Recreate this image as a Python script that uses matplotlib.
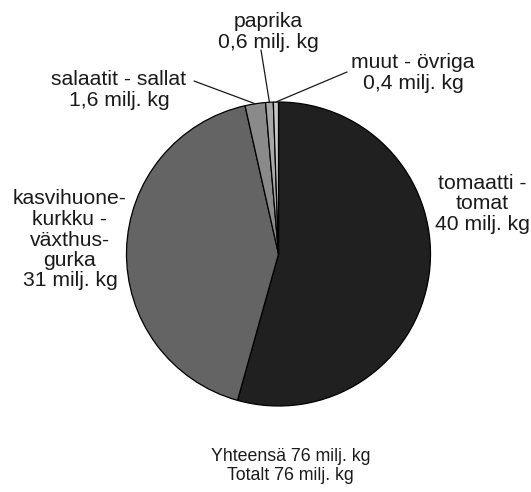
import matplotlib
matplotlib.use("Agg")
import matplotlib.pyplot as plt
import numpy as np

categories = ["tomaatti -\ntomat", "kasvihuone-\nkurkku -\nväxthus-\ngurka",
              "salaatit - sallat", "paprika", "muut - övriga"]
values = [40, 31, 1.6, 0.6, 0.4]
value_labels = ["40 milj. kg", "31 milj. kg", "1,6 milj. kg", "0,6 milj. kg", "0,4 milj. kg"]
colors = ["#202020", "#646464", "#8a8a8a", "#a8a8a8", "#c8c8c8"]
total_text = "Yhteensä 76 milj. kg\nTotalt 76 milj. kg"

W, H = 531, 492
plt.rcParams['font.family'] = ['Liberation Sans', 'DejaVu Sans']
fig = plt.figure(figsize=(W / 100, H / 100), dpi=100)

cx, cy, r = 278.5, 254, 152
ax = fig.add_axes([(cx - r) / W, (H - cy - r) / H, 2 * r / W, 2 * r / H])

wedges, _ = ax.pie(values, colors=colors, startangle=90, counterclock=False,
                   radius=1, center=(0, 0),
                   wedgeprops=dict(edgecolor="black", linewidth=0.9))
ax.set_xlim(-1, 1)
ax.set_ylim(-1, 1)
ax.axis("off")


def fxy(px, py):
    return (px / W, 1 - py / H)


fs = 15.2
# big slice labels
fig.text(*fxy(482, 204), categories[0] + "\n" + value_labels[0], ha="center", va="center",
         fontsize=fs, linespacing=1.1, color="#1a1a1a")
fig.text(*fxy(70, 240), categories[1] + "\n" + value_labels[1], ha="center", va="center",
         fontsize=fs, linespacing=1.1, color="#1a1a1a")

# small slice labels with leader lines
small = [(2, (119, 90), (194, 81)), (3, (268, 32), (261, 50)), (4, (413, 73), (347, 72))]
for idx, tpos, lstart in small:
    w = wedges[idx]
    mid = np.deg2rad((w.theta1 + w.theta2) / 2)
    ex, ey = np.cos(mid), np.sin(mid)
    fig.text(*fxy(*tpos), categories[idx] + "\n" + value_labels[idx], ha="center", va="center",
             fontsize=fs, linespacing=1.1, color="#1a1a1a")
    ax.annotate("", xy=(ex, ey), xycoords="data",
                xytext=fxy(*lstart), textcoords="figure fraction",
                arrowprops=dict(arrowstyle="-", color="#1a1a1a", lw=0.9,
                                shrinkA=0, shrinkB=0),
                annotation_clip=False)

fig.text(*fxy(290.5, 466), total_text, ha="center", va="center",
         fontsize=12.8, linespacing=1.2, color="#1a1a1a")

fig.savefig("out.png", dpi=100)
